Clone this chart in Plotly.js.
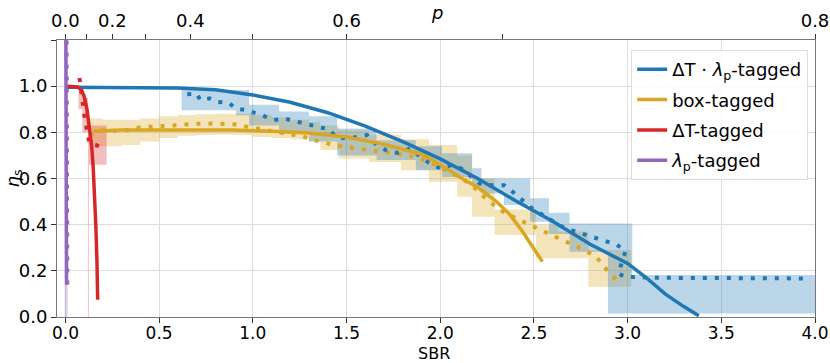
<!DOCTYPE html>
<html>
<head>
<meta charset="utf-8">
<script src="https://cdn.plot.ly/plotly-3.0.1.min.js"></script>
<style>
  html, body { margin: 0; padding: 0; background: #fff; }
  #chart { width: 830px; height: 363px; }
</style>
</head>
<body>
<div id="chart"></div>
<script>
// ΔT · λp-tagged (blue)
const prodLineX = [0, 0.2, 0.4, 0.6, 0.8, 1.0, 1.2, 1.4, 1.6, 1.8, 2.0, 2.2, 2.4, 2.6, 2.8, 3.0, 3.1, 3.2, 3.3, 3.38];
const prodLineY = [0.995, 0.995, 0.995, 0.992, 0.984, 0.962, 0.93, 0.885, 0.827, 0.76, 0.685, 0.6, 0.505, 0.415, 0.315, 0.232, 0.17, 0.1, 0.045, 0.005];
const prodDotX = [0.65, 0.70, 0.72, 0.77, 0.81, 0.87, 0.91, 0.97, 1.01, 1.05, 1.11, 1.17, 1.20, 1.24, 1.27, 1.32, 1.41, 1.44, 1.50, 1.56, 1.61, 1.66, 1.71, 1.77, 1.84, 1.89, 1.94, 2.00, 2.06, 2.11, 2.21, 2.27, 2.34, 2.39, 2.44, 2.49, 2.54, 2.60, 2.65, 2.71, 2.77, 2.83, 2.89, 2.94, 2.99, 2.97, 2.95, 2.99, 3.06, 3.11, 3.5, 3.95];
const prodDotY = [0.965, 0.968, 0.939, 0.947, 0.932, 0.929, 0.903, 0.896, 0.884, 0.874, 0.853, 0.86, 0.853, 0.846, 0.838, 0.831, 0.812, 0.78, 0.773, 0.78, 0.788, 0.745, 0.723, 0.711, 0.73, 0.697, 0.668, 0.644, 0.658, 0.644, 0.579, 0.571, 0.571, 0.54, 0.506, 0.47, 0.445, 0.416, 0.391, 0.373, 0.358, 0.344, 0.328, 0.314, 0.288, 0.239, 0.189, 0.172, 0.174, 0.17, 0.168, 0.167];
const prodBandX = [0.62, 0.91, 0.98, 1.14, 1.30, 1.45, 1.66, 1.87, 2.01, 2.17, 2.22, 2.34, 2.48, 2.58, 2.69, 2.895, 3.025, 4.0];
const prodBandHi = [0.983, 0.983, 0.92, 0.89, 0.87, 0.817, 0.766, 0.74, 0.709, 0.644, 0.6, 0.6, 0.514, 0.452, 0.405, 0.405, 0.182, 0.182];
const prodBandLo = [0.896, 0.874, 0.83, 0.795, 0.76, 0.70, 0.68, 0.636, 0.607, 0.564, 0.535, 0.485, 0.413, 0.36, 0.283, 0.015, 0.015, 0.015];

// box-tagged (gold)
const boxLineX = [0.15, 0.3, 0.5, 0.7, 0.9, 1.1, 1.3, 1.5, 1.7, 1.9, 2.0, 2.1, 2.2, 2.3, 2.37, 2.44, 2.545];
const boxLineY = [0.805, 0.81, 0.81, 0.81, 0.81, 0.805, 0.797, 0.78, 0.748, 0.705, 0.66, 0.608, 0.562, 0.5, 0.445, 0.369, 0.24];
const boxDotX = [0.13, 0.2, 0.3, 0.4, 0.5, 0.6, 0.7, 0.8, 0.9, 1.02, 1.12, 1.2, 1.27, 1.33, 1.39, 1.45, 1.52, 1.58, 1.64, 1.71, 1.77, 1.84, 1.89, 1.94, 2.01, 2.06, 2.1, 2.17, 2.22, 2.27, 2.32, 2.37, 2.43, 2.49, 2.55, 2.6, 2.66, 2.72, 2.78, 2.83, 2.87, 2.91, 2.96];
const boxDotY = [0.79, 0.81, 0.805, 0.822, 0.826, 0.832, 0.837, 0.838, 0.835, 0.817, 0.802, 0.791, 0.781, 0.766, 0.752, 0.742, 0.735, 0.727, 0.72, 0.715, 0.709, 0.698, 0.687, 0.672, 0.644, 0.622, 0.607, 0.571, 0.53, 0.496, 0.463, 0.442, 0.417, 0.394, 0.372, 0.351, 0.33, 0.309, 0.287, 0.264, 0.222, 0.185, 0.146];
const boxBandX = [0.13, 0.2, 0.3, 0.4, 0.5, 0.6, 0.7, 0.8, 0.9, 1.0, 1.1, 1.2, 1.3, 1.36, 1.46, 1.62, 1.79, 1.94, 2.09, 2.17, 2.29, 2.51, 2.63, 2.79, 3.02];
const boxBandHi = [0.86, 0.855, 0.855, 0.86, 0.87, 0.875, 0.878, 0.88, 0.88, 0.875, 0.865, 0.855, 0.845, 0.83, 0.81, 0.79, 0.77, 0.745, 0.70, 0.6, 0.466, 0.4, 0.37, 0.29, 0.29];
const boxBandLo = [0.74, 0.74, 0.745, 0.76, 0.775, 0.785, 0.788, 0.79, 0.788, 0.78, 0.775, 0.77, 0.76, 0.723, 0.687, 0.672, 0.636, 0.586, 0.521, 0.434, 0.355, 0.255, 0.255, 0.131, 0.131];

// ΔT-tagged (red)
const dtLineX = [0.01, 0.04, 0.065, 0.085, 0.1, 0.115, 0.128, 0.14, 0.148, 0.155, 0.162, 0.168, 0.172];
const dtLineY = [1.0, 1.0, 0.997, 0.985, 0.955, 0.9, 0.824, 0.74, 0.65, 0.55, 0.4, 0.25, 0.075];
const dtDotX = [0.075, 0.08, 0.085, 0.092, 0.101, 0.11, 0.119, 0.128, 0.16, 0.2];
const dtDotY = [1.035, 1.0, 0.97, 0.925, 0.874, 0.831, 0.788, 0.752, 0.745, 0.735];
const dtBandX = [0.07, 0.09, 0.12, 0.125, 0.22];
const dtBandHi = [0.99, 0.95, 0.83, 0.83, 0.83];
const dtBandLo = [0.9, 0.8, 0.0, 0.66, 0.66];

// λp-tagged (purple)
const lamLineX = [0.002, 0.003, 0.004, 0.005, 0.006];
const lamLineY = [1.25, 1.0, 0.6, 0.3, 0.14];
const lamBandX = [-0.004, 0.012];
const lamBandHi = [1.25, 1.25];
const lamBandLo = [0.0, 0.0];

// axes
const sbrTicks = [0, 0.5, 1.0, 1.5, 2.0, 2.5, 3.0, 3.5, 4.0];
const etaTicks = [0, 0.2, 0.4, 0.6, 0.8, 1.0, 1.2];
const etaTickText = ['0.0', '0.2', '0.4', '0.6', '0.8', '1.0', ''];
const pTicks = [0, 0.1, 0.2, 0.3, 0.4, 0.5, 0.6, 0.7, 0.8];
const pTickText = ['0.0', '', '0.2', '', '0.4', '', '0.6', '', '0.8'];

const BLUE = '#1f77b4', GOLD = '#daa520', RED = '#d62728', PURPLE = '#9467bd';

function band(x, lo, hi, color) {
  return [
    { x: x, y: lo, mode: 'lines', line: { width: 0, shape: 'hv' }, showlegend: false, hoverinfo: 'skip' },
    { x: x, y: hi, mode: 'lines', line: { width: 0, shape: 'hv' }, fill: 'tonexty', fillcolor: color, showlegend: false, hoverinfo: 'skip' }
  ];
}
function dotted(x, y, color) {
  return { x: x, y: y, mode: 'lines', line: { color: color, width: 4, dash: '4px,8px' }, showlegend: false, hoverinfo: 'skip' };
}
function solid(x, y, color, name, rank) {
  return { x: x, y: y, mode: 'lines', name: name, legendrank: rank, legendgroup: 'g' + rank, line: { color: color, width: 3.5 } };
}

const data = [].concat(
  band(lamBandX, lamBandLo, lamBandHi, 'rgba(148,103,189,0.3)'),
  band(boxBandX, boxBandLo, boxBandHi, 'rgba(218,165,32,0.3)'),
  band(prodBandX, prodBandLo, prodBandHi, 'rgba(31,119,180,0.3)'),
  band(dtBandX, dtBandLo, dtBandHi, 'rgba(214,39,40,0.3)'),
  [
    dotted(boxDotX, boxDotY, GOLD),
    dotted(prodDotX, prodDotY, BLUE),
    dotted(dtDotX, dtDotY, RED),
    dotted(lamLineX.map(v => v + 0.004), lamLineY, PURPLE),
    solid(boxLineX, boxLineY, GOLD, 'box-tagged', 2),
    solid(prodLineX, prodLineY, BLUE, 'ΔT · <i>λ</i><sub>p</sub>-tagged', 1),
    solid(dtLineX, dtLineY, RED, 'ΔT-tagged', 3),
    solid(lamLineX, lamLineY, PURPLE, '<i>λ</i><sub>p</sub>-tagged', 4),
    // carries the top p axis
    { x: sbrTicks, y: sbrTicks.map(() => null), xaxis: 'x2', mode: 'lines', showlegend: false, hoverinfo: 'skip' }
  ]
);

const layout = {
  width: 830,
  height: 363,
  margin: { l: 57, r: 15, t: 40, b: 46 },
  paper_bgcolor: '#fff',
  plot_bgcolor: '#fff',
  font: { family: 'DejaVu Sans', size: 18, color: '#000' },
  legend: {
    x: 0.991, xanchor: 'right', y: 0.964, yanchor: 'top',
    traceorder: 'grouped', tracegroupgap: 4,
    bgcolor: 'rgba(255,255,255,0.85)', bordercolor: '#dddddd', borderwidth: 1,
    font: { size: 18 }
  },
  xaxis: {
    range: [-0.045, 4.0],
    tickmode: 'array', tickvals: sbrTicks, tickformat: '.1f',
    tickfont: { size: 17 },
    ticks: 'outside', ticklen: 5, tickcolor: '#333', ticklabelstandoff: -4,
    showline: true, linecolor: '#777', linewidth: 1,
    showgrid: true, gridcolor: '#dddddd', zeroline: false
  },
  xaxis2: {
    overlaying: 'x', side: 'top', anchor: 'y',
    range: [-0.045, 4.0],
    tickmode: 'array', tickvals: pTicks.map(p => p / (1 - p)), ticktext: pTickText,
    ticks: 'outside', ticklen: 5, tickcolor: '#333',
    showline: true, linecolor: '#777', linewidth: 1,
    showgrid: false, zeroline: false
  },
  yaxis: {
    range: [0, 1.2],
    tickmode: 'array', tickvals: etaTicks, ticktext: etaTickText,
    ticks: 'outside', ticklen: 5, tickcolor: '#333',
    showline: true, mirror: true, linecolor: '#777', linewidth: 1,
    showgrid: true, gridcolor: '#dddddd', zeroline: false
  },
  annotations: [
    { text: '<i>p</i>', xref: 'paper', yref: 'paper', x: 0.501, y: 1.1,
      xanchor: 'center', yanchor: 'middle', showarrow: false, font: { size: 18 } },
    { text: 'SBR', xref: 'paper', yref: 'paper', x: 0.497, y: -0.132,
      xanchor: 'center', yanchor: 'middle', showarrow: false, font: { size: 16 } },
    { text: '<i>η</i><sub>s</sub>', xref: 'paper', yref: 'paper', x: -0.058, y: 0.5,
      xanchor: 'center', yanchor: 'middle', textangle: -90, showarrow: false, font: { size: 18 } }
  ]
};

Plotly.newPlot('chart', data, layout, { displayModeBar: false, staticPlot: true });
</script>
</body>
</html>
